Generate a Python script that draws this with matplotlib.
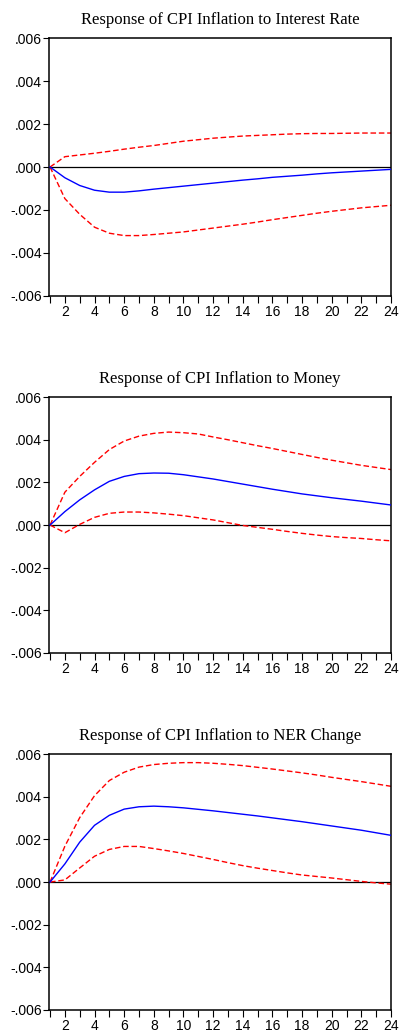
import numpy as np
import matplotlib
matplotlib.use("Agg")
import matplotlib.pyplot as plt

# horizon (periods 1..24)
periods = list(range(1, 25))

titles = ["Response of CPI Inflation to Interest Rate",
          "Response of CPI Inflation to Money",
          "Response of CPI Inflation to NER Change"]

# --- response to interest rate ---
irf_rate = [0.0, -0.00050, -0.00086, -0.00108, -0.00117, -0.00117, -0.00111, -0.00103,
            -0.00096, -0.00089, -0.00082, -0.00075, -0.00068, -0.00061, -0.00055, -0.00048,
            -0.00043, -0.00038, -0.00032, -0.00027, -0.00023, -0.00019, -0.00015, -0.00011]
up_rate = [0.0, 0.00048, 0.00056, 0.00064, 0.00073, 0.00083, 0.00092, 0.00100,
           0.00110, 0.00120, 0.00127, 0.00134, 0.00139, 0.00144, 0.00147, 0.00150,
           0.00153, 0.00155, 0.00156, 0.00156, 0.00157, 0.00158, 0.00158, 0.00158]
lo_rate = [0.0, -0.00147, -0.00220, -0.00280, -0.00308, -0.00319, -0.00319, -0.00314,
           -0.00308, -0.00302, -0.00293, -0.00284, -0.00275, -0.00266, -0.00256, -0.00245,
           -0.00235, -0.00225, -0.00215, -0.00206, -0.00198, -0.00190, -0.00184, -0.00178]

# --- response to money ---
irf_money = [0.0, 0.00063, 0.00118, 0.00165, 0.00205, 0.00228, 0.00241, 0.00244,
             0.00243, 0.00236, 0.00226, 0.00216, 0.00204, 0.00192, 0.00180, 0.00168,
             0.00157, 0.00146, 0.00137, 0.00128, 0.00120, 0.00112, 0.00103, 0.00094]
up_money = [0.0, 0.00154, 0.00228, 0.00294, 0.00354, 0.00394, 0.00417, 0.00430,
            0.00436, 0.00433, 0.00427, 0.00413, 0.00400, 0.00386, 0.00372, 0.00359,
            0.00345, 0.00331, 0.00317, 0.00304, 0.00292, 0.00280, 0.00270, 0.00260]
lo_money = [0.0, -0.00036, 0.00003, 0.00036, 0.00055, 0.00061, 0.00061, 0.00057,
            0.00051, 0.00044, 0.00034, 0.00024, 0.00011, -0.00002, -0.00011, -0.00020,
            -0.00030, -0.00039, -0.00047, -0.00054, -0.00059, -0.00063, -0.00069, -0.00074]

# --- response to NER change ---
irf_ner = [0.0, 0.00085, 0.00187, 0.00266, 0.00313, 0.00342, 0.00353, 0.00356,
           0.00353, 0.00348, 0.00341, 0.00334, 0.00326, 0.00318, 0.00310, 0.00301,
           0.00292, 0.00283, 0.00273, 0.00263, 0.00253, 0.00243, 0.00231, 0.00219]
up_ner = [0.0, 0.00168, 0.00302, 0.00405, 0.00476, 0.00515, 0.00539, 0.00551,
          0.00557, 0.00560, 0.00560, 0.00557, 0.00552, 0.00546, 0.00538, 0.00530,
          0.00521, 0.00512, 0.00502, 0.00491, 0.00481, 0.00471, 0.00460, 0.00449]
lo_ner = [0.0, 0.00010, 0.00066, 0.00121, 0.00153, 0.00167, 0.00167, 0.00157,
          0.00146, 0.00134, 0.00120, 0.00106, 0.00091, 0.00077, 0.00065, 0.00054,
          0.00043, 0.00033, 0.00026, 0.00019, 0.00011, 0.00003, -0.00004, -0.00010]

irfs = [irf_rate, irf_money, irf_ner]
uppers = [up_rate, up_money, up_ner]
lowers = [lo_rate, lo_money, lo_ner]

yticks = [-0.006, -0.004, -0.002, 0.0, 0.002, 0.004, 0.006]
ylabels = ["-.006", "-.004", "-.002", ".000", ".002", ".004", ".006"]
xlabels = [str(p) if p % 2 == 0 else "" for p in periods]

fig = plt.figure(figsize=(4.01, 10.36), dpi=100)
# axes boxes (left, bottom, width, height) in figure fraction
boxes = [(0.1222, 0.7143, 0.853, 0.249),
         (0.1222, 0.3697, 0.853, 0.247),
         (0.1222, 0.0251, 0.853, 0.247)]

for i in range(3):
    ax = fig.add_axes(boxes[i])
    ax.axhline(0, color="black", lw=0.9, zorder=1)
    ax.plot(periods, uppers[i], color="#ff0000", lw=1.0, ls=(0, (4, 2)), zorder=2)
    ax.plot(periods, lowers[i], color="#ff0000", lw=1.0, ls=(0, (4, 2)), zorder=2)
    ax.plot(periods, irfs[i], color="#0000ff", lw=1.0, zorder=3)
    ax.set_xlim(0.93, 24)
    ax.set_ylim(-0.006, 0.006)
    ax.set_xticks(periods)
    ax.set_xticklabels(xlabels, fontsize=10, family="Liberation Sans")
    ax.set_yticks(yticks)
    ax.set_yticklabels(ylabels, fontsize=10, family="Liberation Sans")
    ax.tick_params(axis="x", direction="out", length=5, width=0.8, pad=1.5)
    ax.tick_params(axis="y", direction="out", length=4, width=0.8, pad=1)
    for s in ax.spines.values():
        s.set_linewidth(1.1)
    ax.set_title(titles[i], fontsize=12, family="Liberation Serif", pad=10)

fig.savefig("out.png", dpi=100)
